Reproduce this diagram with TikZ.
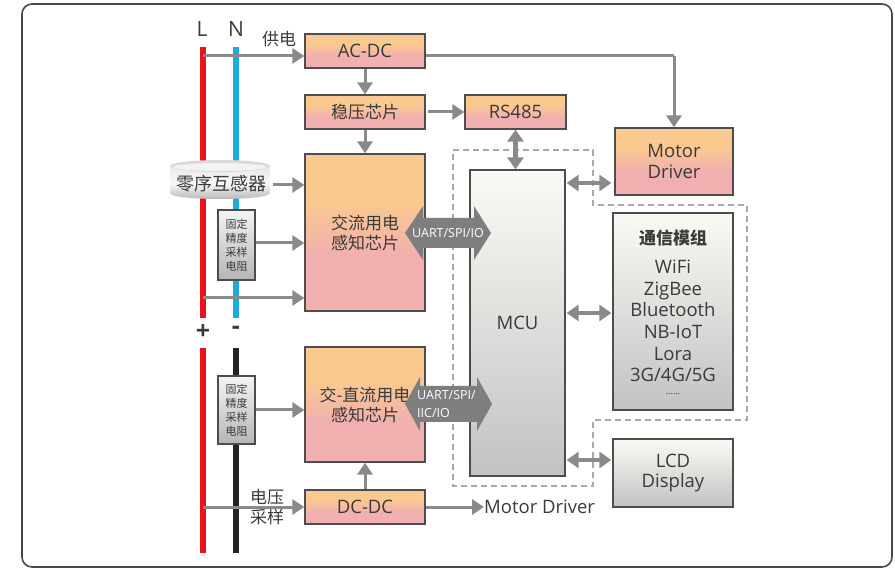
\documentclass[tikz,border=0pt]{standalone}
\usepackage{fontspec}
\setmainfont{Open Sans}
\newfontfamily\cjk{Noto Sans CJK SC}
\usetikzlibrary{arrows.meta}
\definecolor{orc}{HTML}{F9C98F}
\definecolor{pkc}{HTML}{F1AFB0}
\definecolor{gyt}{HTML}{FAFAF5}
\definecolor{gyb}{HTML}{C2C2C2}
\definecolor{rgt}{HTML}{F4F4F4}
\definecolor{rgb}{HTML}{B5B5B5}
\definecolor{edge}{HTML}{4D4D4D}
\definecolor{arrgray}{HTML}{8A8A8A}
\definecolor{bigarr}{HTML}{7E7E7E}
\definecolor{txt}{HTML}{3A3A3A}
\definecolor{Lred}{HTML}{E8131B}
\definecolor{Nblue}{HTML}{1DA9E1}
\definecolor{Nblack}{HTML}{262223}
\definecolor{dashc}{HTML}{A8A8A8}
\definecolor{framec}{HTML}{4A4A4A}
\pgfdeclareverticalshading{opk}{100bp}{color(0bp)=(pkc); color(25bp)=(pkc); color(42bp)=(pkc); color(60bp)=(orc); color(75bp)=(orc); color(100bp)=(orc)}
\pgfdeclareverticalshading{gys}{100bp}{color(0bp)=(gyb); color(25bp)=(gyb); color(75bp)=(gyt); color(100bp)=(gyt)}
\pgfdeclareverticalshading{rgs}{100bp}{color(0bp)=(rgb); color(25bp)=(rgb); color(75bp)=(rgt); color(100bp)=(rgt)}
\begin{document}
\begin{tikzpicture}[x=1pt,y=-1pt,
  obox/.style={draw=edge, line width=1.3pt, shading=opk, inner sep=0pt, text=txt, align=center},
  gbox/.style={draw=edge, line width=1.3pt, shading=gys, inner sep=0pt, text=txt, align=center},
  rbox/.style={draw=edge, line width=1.1pt, shading=rgs, inner sep=0pt, text=txt, align=center,
    font=\cjk\fontsize{11}{14}\selectfont},
  cn/.style={font=\cjk\fontsize{17}{20}\selectfont},
  ln/.style={font=\fontsize{18.5}{20.5}\selectfont},
  lbl/.style={text=txt, inner sep=0pt},
  arr/.style={draw=arrgray, line width=3pt, -{Triangle[length=12pt,width=15pt]}},
  darr/.style={draw=arrgray, line width=4.5pt, {Triangle[length=12pt,width=16pt]}-{Triangle[length=12pt,width=16pt]}},
  bigtxt/.style={text=white, inner sep=0pt, font=\fontsize{12.5}{18}\selectfont, align=left},
  wire/.style={line width=6.5pt}
]
\useasboundingbox (0,0) rectangle (895,569);
\draw[rounded corners=10pt, draw=framec, line width=1.6pt] (22,4) rectangle (892,567);

% wires
\draw[wire, Lred] (203,47) -- (203,318);
\draw[wire, Nblue] (236,47) -- (236,318);
\draw[wire, Lred] (203,348) -- (203,553);
\draw[wire, Nblack] (236,348) -- (236,553);
\node[lbl, anchor=base, font=\fontsize{21}{22}\selectfont] (Lt) at (202,37) {L};
\node[lbl, anchor=base, font=\fontsize{21}{22}\selectfont] (Nt) at (236,37) {N};
\node[lbl, font=\bfseries\fontsize{25}{25}\selectfont] (plus) at (203,332) {+};
\node[lbl, font=\bfseries\fontsize{25}{25}\selectfont] (minus) at (236,330) {-};

% dashed MCU area
\draw[dashc, line width=1.3pt, dash pattern=on 6pt off 4pt]
  (453,150) -- (593,150) -- (593,205) -- (747,205) -- (747,420) -- (593,420) -- (593,486) -- (453,486) -- cycle;

% boxes
\node[obox, ln, minimum width=120pt, minimum height=34pt] (acdc) at (365,51) {AC-DC};
\node[obox, cn, minimum width=120pt, minimum height=34pt] (wy) at (365,112) {稳压芯片};
\node[obox, ln, minimum width=101pt, minimum height=34pt] (rs) at (515.5,112) {RS485};
\node[obox, ln, minimum width=118pt, minimum height=67pt] (md) at (674,161.5) {Motor\\Driver};
\node[obox, cn, minimum width=120pt, minimum height=157pt] (ac) at (365,232.5) {交流用电\\感知芯片};
\node[obox, cn, minimum width=120pt, minimum height=115pt] (dcac) at (365,404.5) {交-直流用电\\感知芯片};
\node[obox, ln, minimum width=120pt, minimum height=34pt] (dcdc) at (365,507) {DC-DC};
\node[gbox, ln, minimum width=95pt, minimum height=306pt] (mcu) at (517.5,323) {MCU};
\node[gbox, minimum width=120pt, minimum height=197pt] (tx) at (673,311.5) {};
\node[lbl, font=\cjk\bfseries\fontsize{17}{20}\selectfont] (txt1) at (673,238) {通信模组};
\node[lbl, align=center, font=\fontsize{18.5}{21.6}\selectfont] (txt2) at (673,321) {WiFi\\ZigBee\\Bluetooth\\NB-IoT\\Lora\\3G/4G/5G};
\node[lbl, font=\fontsize{9}{10}\selectfont] (txt3) at (673,394) {......};
\node[gbox, ln, minimum width=120pt, minimum height=68pt] (lcd) at (673,473) {LCD\\Display};

% resistors
\node[rbox, minimum width=37pt, minimum height=70pt] (r1) at (236.5,245) {固定\\精度\\采样\\电阻};
\node[rbox, minimum width=37pt, minimum height=68pt] (r2) at (236.5,410) {固定\\精度\\采样\\电阻};

% transformer cylinder
\shade[top color=gray!18, bottom color=gray!62, middle color=gray!5]
  (170,166) -- (170,193) .. controls (170,201) and (270,201) .. (270,193) -- (270,166) -- cycle;
\fill[gray!30] (220,166) ellipse [x radius=50, y radius=6];
\fill[gray!10] (220,167) ellipse [x radius=47, y radius=4];
\node[lbl, font=\cjk\fontsize{18}{20}\selectfont] (cyl) at (221,184) {零序互感器};
\coordinate (cylE) at (273,185);

% labels
\node[lbl, cn] (gd) at (279,39) {供电};
\node[lbl, cn, align=center] (dy) at (267,507) {电压\\采样};
\node[lbl, ln, anchor=west] (md2) at (484,507) {Motor Driver};

% helper coordinates on L wire
\coordinate (L1) at (203,56);
\coordinate (L2) at (203,298);
\coordinate (L3) at (203,507);
\coordinate (mdx) at (674,56);

% arrows
\draw[arr] (L1) -- (L1 -| acdc.west);
\draw[arrgray, line width=3pt] (acdc.east |- L1) -- (mdx);
\draw[arr] (mdx) -- (md.north);
\draw[arr] (acdc.south) -- (wy.north);
\draw[arr] (wy.south) -- (ac.north);
\draw[arr, shorten <=2pt] (wy.east) -- (rs.west);
\draw[arr] (cylE) -- (cylE -| ac.west);
\draw[arr] (r1.east |- 0,243) -- (ac.west |- 0,243);
\draw[arr] (L2) -- (L2 -| ac.west);
\draw[arr] (r2.east) -- (r2.east -| dcac.west);
\draw[arr] (L3) -- (dcdc.west);
\draw[arr] (dcdc.north) -- (dcac.south);
\draw[arr] (dcdc.east) -- (md2.west);

\draw[darr] (rs.south) -- (mcu.north -| rs.south);
\draw[darr, shorten <=1pt, shorten >=3pt] (mcu.east |- 0,183) -- (md.west |- 0,183);
\draw[darr, shorten <=1pt, shorten >=1pt] (mcu.east |- 0,313) -- (tx.west |- 0,313);
\draw[darr, shorten <=1pt, shorten >=1pt] (mcu.east |- 0,460) -- (lcd.west |- 0,460);

% big bus arrows
\fill[bigarr] (405,233) -- (423,206) -- (423,218) -- (474,218) -- (474,206) -- (491,233) -- (474,260) -- (474,248) -- (423,248) -- (423,260) -- cycle;
\node[bigtxt] (bus1) at (448,233) {UART/SPI/IO};
\fill[bigarr] (405,404) -- (420,377) -- (420,386) -- (477,386) -- (477,377) -- (492,404) -- (477,431) -- (477,422) -- (420,422) -- (420,431) -- cycle;
\node[bigtxt, anchor=west] (bus2) at (417,404) {UART/SPI/\\IIC/IO};
\end{tikzpicture}
\end{document}
